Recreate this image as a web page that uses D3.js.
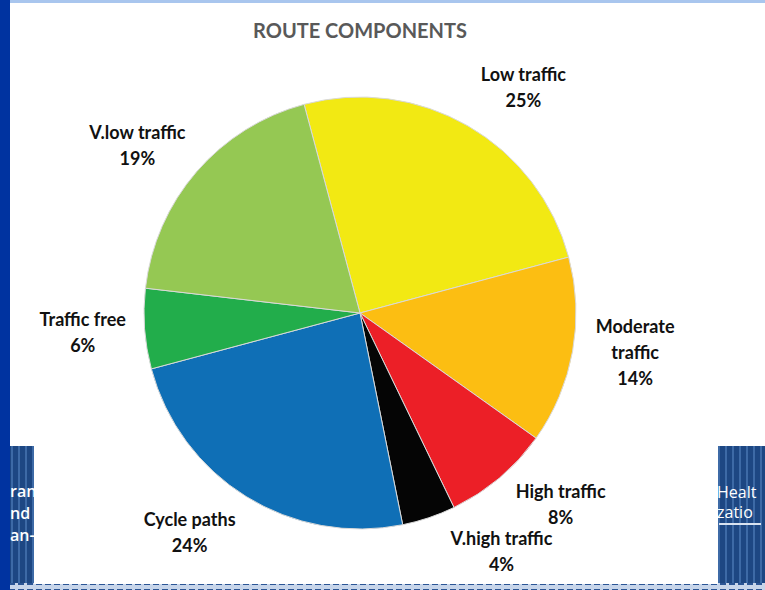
<!DOCTYPE html>
<meta charset="utf-8">
<style>
  body { margin: 0; background: #fff; }
  svg { display: block; }
  text { font-family: "Lato", "Open Sans", sans-serif; }
</style>
<body>
<script src="https://cdn.jsdelivr.net/npm/d3@7"></script>
<script>
// route share by traffic level (percent), clockwise from the top
var categories = ["Low traffic", "Moderate traffic", "High traffic", "V.high traffic",
                  "Cycle paths", "Traffic free", "V.low traffic"];
var shares     = [25, 14, 8, 4, 24, 6, 19];
var sliceColors = ["#f2e913", "#fcbe12", "#ec1f27", "#050505",
                   "#0f6fb6", "#22ad4b", "#95c853"];

var width = 765, height = 590;

var svg = d3.select("body").append("svg")
  .attr("width", width)
  .attr("height", height);

// ---- slide furniture behind the chart card ----
var defs = svg.append("defs");
var stripes = defs.append("pattern")
  .attr("id", "stripes")
  .attr("patternUnits", "userSpaceOnUse")
  .attr("width", 7).attr("height", 10);
stripes.append("rect").attr("width", 7).attr("height", 10).attr("fill", "#1d4783");
stripes.append("rect").attr("x", 4).attr("width", 2).attr("height", 10).attr("fill", "#3d6aa6");

var dashes = defs.append("pattern")
  .attr("id", "dashes")
  .attr("patternUnits", "userSpaceOnUse")
  .attr("width", 9).attr("height", 7);
dashes.append("rect").attr("width", 9).attr("height", 7).attr("fill", "#c7d5ea");
dashes.append("rect").attr("width", 6).attr("height", 3).attr("y", 1).attr("fill", "#2b5595");

svg.append("rect").attr("x", 0).attr("y", 583).attr("width", width).attr("height", 7)
  .attr("fill", "url(#dashes)");

// bottom side panels (only fragments of their text show past the card)
var leftPanel = svg.append("g");
leftPanel.append("rect").attr("x", 10).attr("y", 446).attr("width", 30).attr("height", 137)
  .attr("fill", "url(#stripes)");
leftPanel.selectAll("text")
  .data(["ran", "nd", "an-"])
  .enter().append("text")
  .attr("x", 10).attr("y", function(d, i){ return 497 + i * 22; })
  .attr("fill", "#fff")
  .style("font-family", "Open Sans")
  .style("font-weight", 600)
  .style("font-size", "16px")
  .text(function(d){ return d; });

var rightPanel = svg.append("g");
rightPanel.append("rect").attr("x", 712).attr("y", 446).attr("width", 53).attr("height", 137)
  .attr("fill", "url(#stripes)");
rightPanel.selectAll("text")
  .data(["Healt", "zatio"])
  .enter().append("text")
  .attr("x", 717)
  .attr("y", function(d, i){ return 498 + i * 20; })
  .attr("fill", "#fff")
  .style("font-family", "Open Sans")
  .style("font-size", "16px")
  .text(function(d){ return d; });
rightPanel.append("rect").attr("x", 719).attr("y", 523).attr("width", 42).attr("height", 2)
  .attr("fill", "#d8e2f0");

// white chart card covering the panels
svg.append("rect").attr("x", 34).attr("y", 0).attr("width", 684).attr("height", 584)
  .attr("fill", "#fff");
svg.append("rect").attr("x", 10).attr("y", 0).attr("width", width - 10).attr("height", 444)
  .attr("fill", "#fff");

// top light band and left dark strip
svg.append("rect").attr("x", 10).attr("y", 0).attr("width", width - 10).attr("height", 3)
  .attr("fill", "#a9c6ee");
svg.append("rect").attr("x", 0).attr("y", 0).attr("width", 10).attr("height", height)
  .attr("fill", "#0033a0");

// ---- the chart ----
svg.append("text")
  .attr("x", 360).attr("y", 38)
  .attr("text-anchor", "middle")
  .attr("fill", "#595959")
  .style("font-weight", "bold")
  .style("font-size", "20px")
  .text("ROUTE COMPONENTS");

var cx = 360, cy = 313, radius = 216, labelRadius = 278;
var toRad = Math.PI / 180;

var pie = d3.pie()
  .sort(null)
  .startAngle(-15 * toRad)
  .endAngle(345 * toRad)
  .value(function(d){ return d; });

var arc = d3.arc().innerRadius(0).outerRadius(radius);

var arcs = pie(shares);

var chart = svg.append("g").attr("transform", "translate(" + cx + "," + cy + ")");

chart.selectAll("path")
  .data(arcs)
  .enter().append("path")
  .attr("d", arc)
  .attr("fill", function(d, i){ return sliceColors[i]; })
  .attr("stroke", "#d9d9d9")
  .attr("stroke-width", 1);

// labels sit outside the pie; nudge (deg) mimics Excel's best-fit shifting
var labelNudge = [6, -2, -6, -12, 6, 0, -4];
var lineHeight = 26;

var labels = chart.selectAll(".lbl")
  .data(arcs)
  .enter().append("text")
  .attr("class", "lbl")
  .attr("text-anchor", "middle")
  .attr("fill", "#111")
  .style("font-weight", "bold")
  .style("font-size", "18px");

labels.each(function(d, i){
  var a = (d.startAngle + d.endAngle) / 2 + labelNudge[i] * toRad;
  var x = labelRadius * Math.sin(a),
      y = -labelRadius * Math.cos(a);
  var name = categories[i];
  var lines = name.length > 14 ? name.split(" ") : [name];
  lines.push(d.data + "%");
  var top = y - (lines.length - 1) * lineHeight / 2 + 6;
  var t = d3.select(this);
  lines.forEach(function(l, k){
    t.append("tspan").attr("x", x).attr("y", top + k * lineHeight).text(l);
  });
});
</script>
</body>
